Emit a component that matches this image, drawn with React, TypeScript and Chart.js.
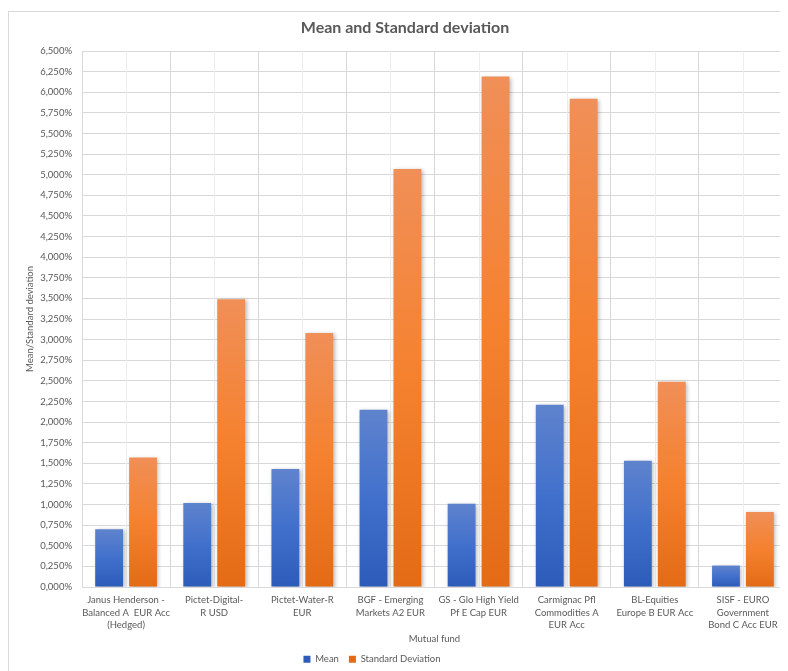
import React, { useEffect, useRef } from "react";
import { Chart, registerables } from "chart.js";

Chart.register(...registerables);

const categories: string[][] = [
  ["Janus Henderson -", "Balanced A  EUR Acc", "(Hedged)"],
  ["Pictet-Digital-", "R USD"],
  ["Pictet-Water-R", "EUR"],
  ["BGF - Emerging", "Markets A2 EUR"],
  ["GS - Glo High Yield", "Pf E Cap EUR"],
  ["Carmignac Pfl", "Commodities A", "EUR Acc"],
  ["BL-Equities", "Europe B EUR Acc"],
  ["SISF - EURO", "Government", "Bond C Acc EUR"],
];

const meanValues: number[] = [0.7, 1.02, 1.43, 2.15, 1.01, 2.21, 1.53, 0.26];
const stdValues: number[] = [1.57, 3.49, 3.08, 5.07, 6.19, 5.92, 2.49, 0.91];

const yMin = 0;
const yMax = 6.5;
const yStep = 0.25;

const FONT = "Lato, 'Open Sans', sans-serif";
const TEXT = "#595959";
const GRID = "#D9D9D9";

const blueStops = ["#5F83CD", "#4170CC", "#2D5BB9"];
const orangeStops = ["#F08F58", "#F5812E", "#E36B16"];

function gradientFill(stops: string[], base: string) {
  return (ctx: any) => {
    if (ctx.type !== "data") return base;
    const chart = ctx.chart;
    if (!chart.chartArea) return base;
    const y = chart.scales.y;
    const top = y.getPixelForValue(ctx.raw);
    const bottom = y.getPixelForValue(0);
    if (!isFinite(top) || !isFinite(bottom) || top === bottom) return base;
    const g = chart.ctx.createLinearGradient(0, top, 0, bottom);
    g.addColorStop(0, stops[0]);
    g.addColorStop(0.5, stops[1]);
    g.addColorStop(1, stops[2]);
    return g;
  };
}

const decorPlugin = {
  id: "decor",
  afterLayout(chart: any) {
    if (chart.titleBlock) {
      chart.titleBlock.left += 7;
      chart.titleBlock.right += 7;
    }
    if (chart.legend) {
      chart.legend.left -= 26;
      chart.legend.right -= 26;
    }
  },
  beforeDatasetsDraw(chart: any) {
    const { ctx, chartArea, scales } = chart;
    const x = scales.x;
    ctx.save();
    ctx.strokeStyle = "#EDEDED";
    ctx.lineWidth = 1;
    for (let i = 0; i < categories.length; i++) {
      const px = Math.round(x.getPixelForValue(i)) + 0.5;
      ctx.beginPath();
      ctx.moveTo(px, chartArea.top);
      ctx.lineTo(px, chartArea.bottom);
      ctx.stroke();
    }
    ctx.restore();
    ctx.save();
    ctx.shadowColor = "rgba(0,0,0,0.28)";
    ctx.shadowBlur = 4;
    ctx.shadowOffsetX = 1.5;
    ctx.shadowOffsetY = 1;
  },
  afterDatasetsDraw(chart: any) {
    chart.ctx.restore();
  },
};

export default function App() {
  const ref = useRef<HTMLCanvasElement | null>(null);

  useEffect(() => {
    document.body.style.overflow = "hidden";
    document.documentElement.style.overflow = "hidden";
    if (!ref.current) return;
    const chart = new Chart(ref.current, {
      type: "bar",
      data: {
        labels: categories,
        datasets: [
          {
            label: "Mean",
            data: meanValues,
            backgroundColor: gradientFill(blueStops, "#4472C4"),
            categoryPercentage: 0.77,
            barPercentage: 0.82,
          },
          {
            label: "Standard Deviation",
            data: stdValues,
            backgroundColor: gradientFill(orangeStops, "#ED7D31"),
            categoryPercentage: 0.77,
            barPercentage: 0.82,
          },
        ],
      },
      options: {
        animation: false,
        responsive: false,
        maintainAspectRatio: false,
        devicePixelRatio: 1,
        layout: { padding: 0 },
        plugins: {
          tooltip: { enabled: false },
          title: {
            display: true,
            text: "Mean and Standard deviation",
            color: TEXT,
            font: { family: FONT, size: 16, weight: "bold", lineHeight: 1.2 },
            padding: { top: 6.4, bottom: 13.4 },
          },
          legend: {
            display: true,
            position: "bottom",
            labels: {
              color: TEXT,
              font: { family: FONT, size: 9.5 },
              boxWidth: 7,
              boxHeight: 7,
              padding: 10,
            },
          },
        },
        scales: {
          x: {
            grid: { color: GRID, drawTicks: false, offset: true },
            border: { color: GRID },
            ticks: {
              color: TEXT,
              font: { family: FONT, size: 9.5, lineHeight: 1.3 },
              padding: 7,
              maxRotation: 0,
              minRotation: 0,
              autoSkip: false,
            },
            title: {
              display: true,
              text: "Mutual fund",
              color: TEXT,
              font: { family: FONT, size: 9.5 },
              padding: { top: 0, bottom: 0 },
            },
            afterFit: (scale: any) => {
              scale.height = 57.5;
            },
          },
          y: {
            min: yMin,
            max: yMax,
            grid: { color: GRID, drawTicks: false },
            border: { color: GRID },
            ticks: {
              stepSize: yStep,
              color: TEXT,
              font: { family: FONT, size: 9.5 },
              padding: 10,
              callback: (v: any) => Number(v).toFixed(3).replace(".", ",") + "%",
            },
            title: {
              display: true,
              text: "Mean/Standard deviation",
              color: TEXT,
              font: { family: FONT, size: 9.5 },
              padding: { top: 15.5, bottom: 0 },
            },
            afterFit: (scale: any) => {
              scale.width = 73;
            },
          },
        },
      },
      plugins: [decorPlugin],
    });
    return () => chart.destroy();
  }, []);

  return (
    <div
      style={{
        marginTop: 3,
        width: 780,
        height: 664,
        border: "1px solid #D9D9D9",
        boxSizing: "border-box",
        background: "#fff",
        overflow: "hidden",
      }}
    >
      <canvas ref={ref} width={778} height={662} style={{ display: "block", width: 778, height: 662 }} />
    </div>
  );
}
